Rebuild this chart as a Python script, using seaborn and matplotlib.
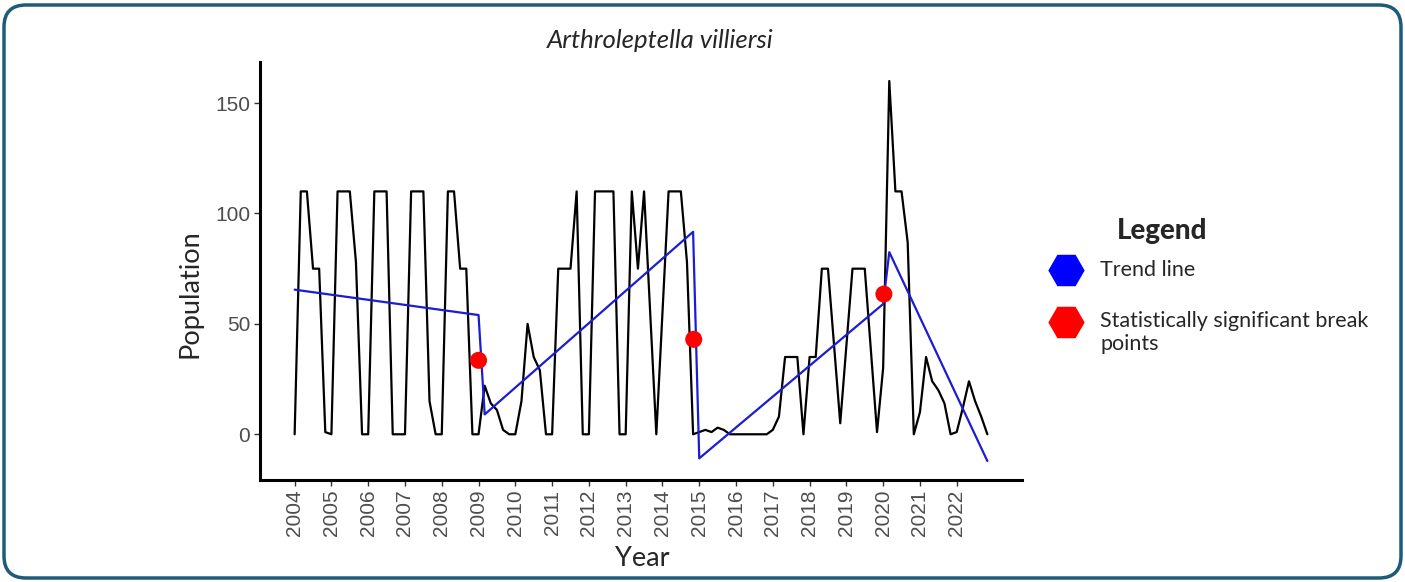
import numpy as np
import pandas as pd
import matplotlib
matplotlib.use("Agg")
import matplotlib.pyplot as plt
import seaborn as sns
from matplotlib.patches import FancyBboxPatch
from matplotlib.lines import Line2D
from matplotlib.transforms import IdentityTransform

# ---- data -----------------------------------------------------------------
species = "Arthroleptella villiersi"
start_year = 2004
samples_per_year = 6  # bimonthly counts

population = [
    0, 110, 110, 75, 75, 1, 0, 110, 110, 110, 78, 0,
    0, 110, 110, 110, 0, 0, 0, 110, 110, 110, 15, 0,
    0, 110, 110, 75, 75, 0, 0, 22, 14, 11, 2, 0,
    0, 15, 50, 35, 29, 0, 0, 75, 75, 75, 110, 0,
    0, 110, 110, 110, 110, 0, 0, 110, 75, 110, 55, 0,
    55, 110, 110, 110, 78, 0, 1, 2, 1, 3, 2, 0,
    0, 0, 0, 0, 0, 0, 2, 8, 35, 35, 35, 0,
    35, 35, 75, 75, 40, 5, 40, 75, 75, 75, 38, 1,
    30, 160, 110, 110, 87, 0, 10, 35, 24, 20, 14, 0,
    1, 12, 24, 15, 8, 0,
]

trend_years = [2004.0, 2009.0, 2009.167, 2014.833, 2015.0, 2020.0, 2020.167, 2022.833]
trend_values = [65.5, 54.0, 9.0, 91.7, -10.9, 59.0, 82.5, -12.1]

break_years = [2009.0, 2014.85, 2020.02]
break_values = [33.5, 43.0, 63.5]

year_ticks = list(range(2004, 2023))
pop_ticks = [0, 50, 100, 150]

legend_title = "Legend"
legend_labels = ["Trend line", "Statistically significant break\npoints"]

# ---- styling --------------------------------------------------------------
sns.set_theme(style="ticks")
plt.rcParams["font.family"] = ["Lato", "DejaVu Sans"]

TREND_BLUE = "#1c1cd2"
KEY_BLUE = "#0000ff"
BREAK_RED = "#ff0000"
TICK_GREY = "#4d4d4d"
FRAME = "#1d5b79"

W, H = 1405, 582
fig = plt.figure(figsize=(W / 100, H / 100), dpi=100)
fig.patch.set_facecolor("white")
ax = fig.add_axes([260 / W, 1 - 480 / H, (1022 - 260) / W, (480 - 62) / H])
ax.set_facecolor("white")

df = pd.DataFrame({
    "Year": start_year + np.arange(len(population)) / samples_per_year,
    "Population": population,
})
trend = pd.DataFrame({"Year": trend_years, "Population": trend_values})
breaks = pd.DataFrame({"Year": break_years, "Population": break_values})

sns.lineplot(data=df, x="Year", y="Population", color="black", lw=1.6,
             estimator=None, ax=ax)
sns.lineplot(data=trend, x="Year", y="Population", color=TREND_BLUE, lw=1.6,
             estimator=None, sort=False, ax=ax)
sns.scatterplot(data=breaks, x="Year", y="Population", color=BREAK_RED,
                s=150, edgecolor="none", zorder=5, ax=ax)

# ggplot-like 5% expansion around the data range
x_lo, x_hi = df["Year"].min(), df["Year"].max()
y_lo = min(min(population), min(trend_values))
y_hi = max(max(population), max(trend_values))
ax.set_xlim(x_lo - 0.05 * (x_hi - x_lo), x_hi + 0.05 * (x_hi - x_lo))
ax.set_ylim(y_lo - 0.05 * (y_hi - y_lo), y_hi + 0.05 * (y_hi - y_lo))

ax.set_xticks(year_ticks)
ax.set_xticklabels([str(y) for y in year_ticks], rotation=90)
ax.set_yticks(pop_ticks)
for lab in ax.get_xticklabels() + ax.get_yticklabels():
    lab.set_fontfamily("Liberation Sans")
    lab.set_fontsize(15)
    lab.set_color(TICK_GREY)
ax.tick_params(axis="both", length=4, width=1, color="#333333", pad=3)

for side in ("top", "right"):
    ax.spines[side].set_visible(False)
for side in ("left", "bottom"):
    ax.spines[side].set_linewidth(2.2)
    ax.spines[side].set_color("black")

ax.set_xlabel("Year", fontsize=19.5)
ax.set_ylabel("Population", fontsize=19.5)
ax.xaxis.set_label_coords((642 - 260) / (1022 - 260), (480 - 559) / (480 - 62))
ax.xaxis.label.set_va("center")
ax.yaxis.set_label_coords((190 - 260) / (1022 - 260), (480 - 294) / (480 - 62))
ax.yaxis.label.set_va("center")

fig.text(660 / W, 1 - 40 / H, species, style="italic", fontsize=18.5,
         ha="center", va="center")

# ---- legend ---------------------------------------------------------------
fig.text(1162 / W, 1 - 231 / H, legend_title, fontsize=20, fontweight="black",
         ha="center", va="center")
legend_rows = [(KEY_BLUE, 270), (BREAK_RED, 322)]
for (col, ypix), label in zip(legend_rows, legend_labels):
    fig.add_artist(Line2D([1066 / W], [1 - ypix / H], transform=fig.transFigure,
                          marker="H", markersize=25, color=col, ls="none"))
    if "\n" in label:
        fig.text(1100 / W, 1 - (ypix - 11) / H, label, fontsize=15.5,
                 ha="left", va="top", linespacing=1.2)
    else:
        fig.text(1100 / W, 1 - ypix / H, label, fontsize=15.5, ha="left",
                 va="center")

# rounded outer frame
fig.add_artist(FancyBboxPatch((4, 4), W - 8, H - 9,
                              boxstyle="round,pad=0,rounding_size=22",
                              transform=IdentityTransform(), fill=False,
                              ec=FRAME, lw=2.5))

fig.savefig("out.png", dpi=100, facecolor="white")
